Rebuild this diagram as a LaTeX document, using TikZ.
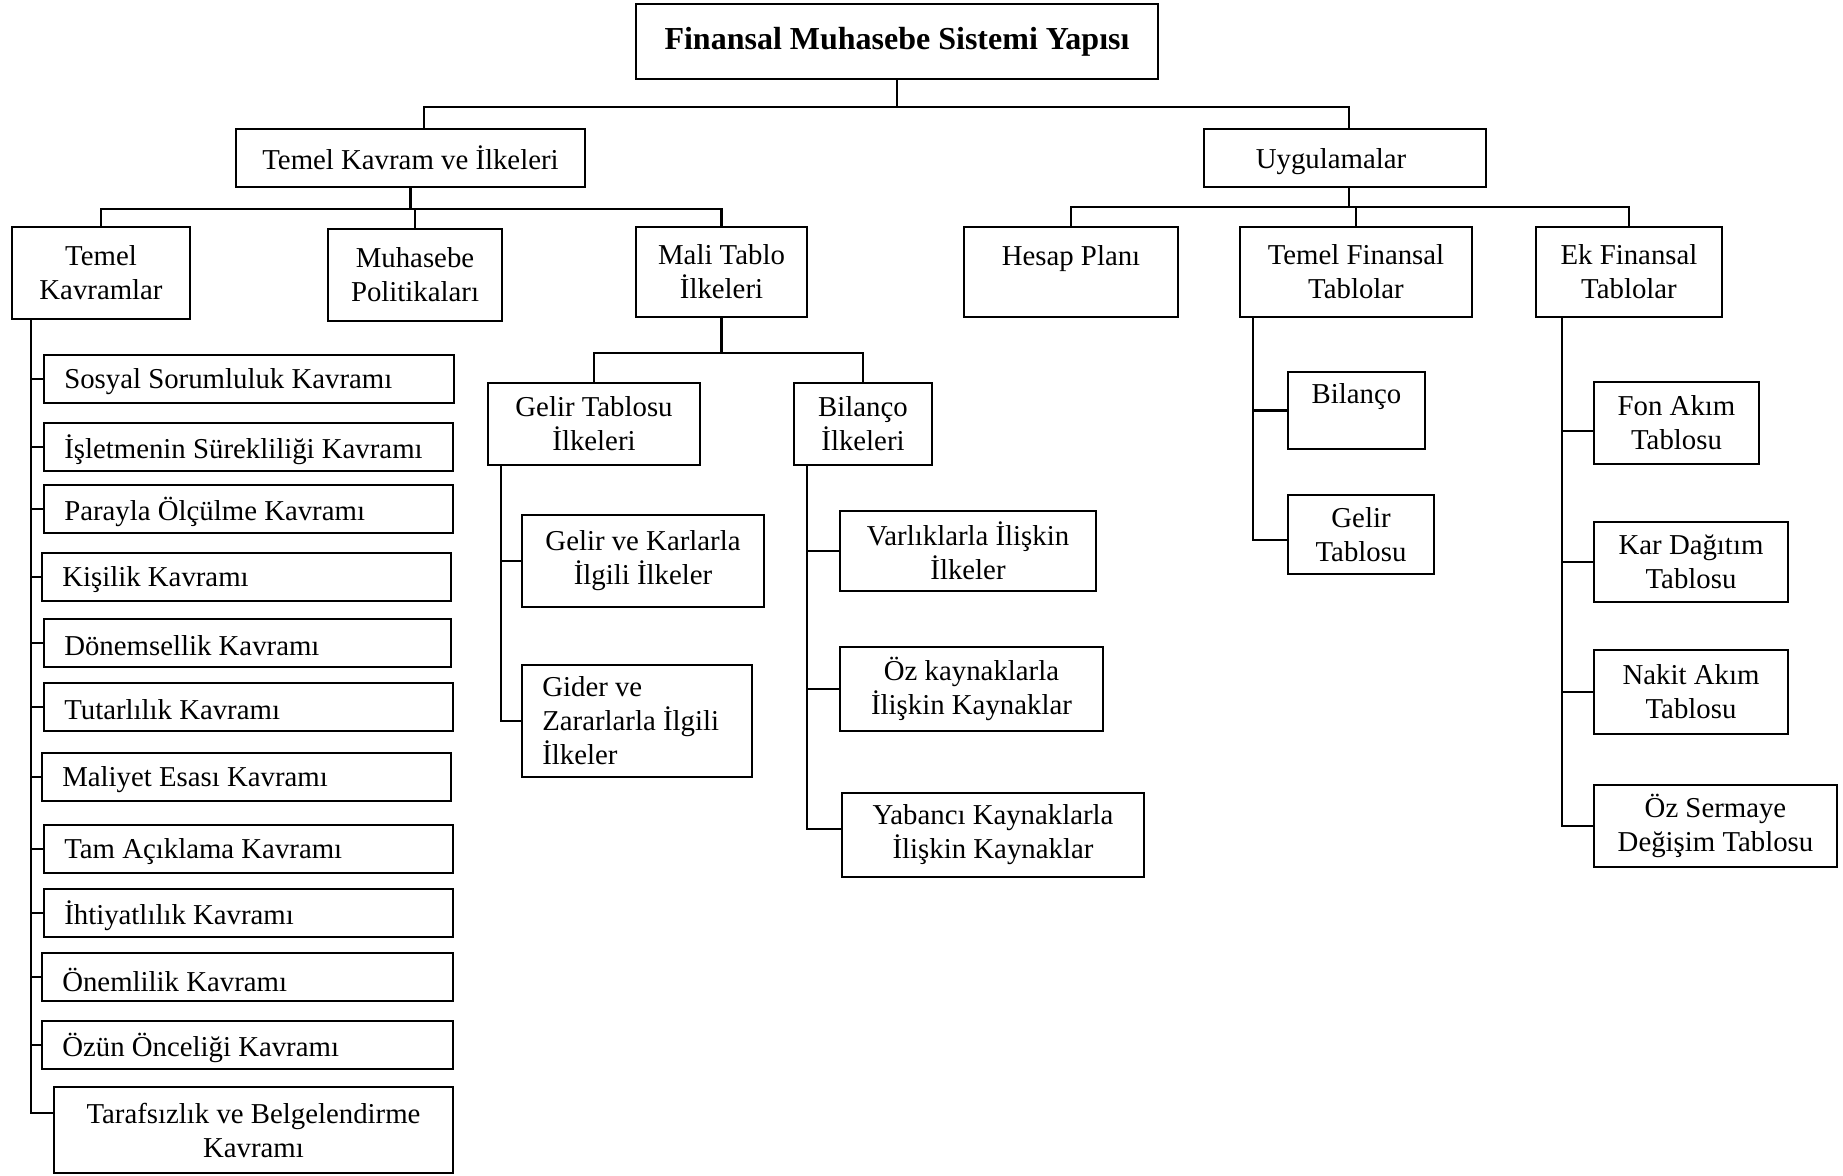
\documentclass[tikz,border=0pt]{standalone}
\usepackage{fontspec}
\setmainfont{Liberation Serif}
\tikzset{
  box/.style={draw, line width=1.1pt, inner sep=0pt, align=center, font=\fontsize{14.4}{17}\selectfont},
  lab/.style={anchor=west, inner sep=0pt, xshift=10.5pt, yshift=-1.5pt, align=left, font=\fontsize{14.4}{17}\selectfont},
  conn/.style={line width=1.1pt},
}
\newcommand{\bx}[7][]{%
  \pgfmathsetmacro\bxw{(#5-#3)*0.5}%
  \pgfmathsetmacro\bxh{(#6-#4)*0.5}%
  \node[box, minimum width=\bxw pt, minimum height=\bxh pt, #1] (#2) at ({(#3+#5)/2},{(#4+#6)/2}) {#7};}
\newcommand{\bxl}[7][]{%
  \pgfmathsetmacro\bxw{(#5-#3)*0.5}%
  \pgfmathsetmacro\bxh{(#6-#4)*0.5}%
  \node[box, minimum width=\bxw pt, minimum height=\bxh pt, label={[lab,#1]west:#7}] (#2) at ({(#3+#5)/2},{(#4+#6)/2}) {};}
\begin{document}
\begin{tikzpicture}[x=0.5pt,y=-0.5pt]
\useasboundingbox (0,0) rectangle (1843,1175);
% top levels
\bx[font=\fontsize{16}{19}\selectfont\bfseries]{top}{636}{4}{1158}{79}{Finansal Muhasebe Sistemi Yapısı}
\bx{tk}{236}{129}{585}{187}{Temel Kavram ve İlkeleri}
\bx[text depth=0pt]{uy}{1204}{129}{1486}{187}{Uygulamalar\hspace{14pt}}
\bx{tkv}{12}{227}{190}{319}{Temel\\Kavramlar}
\bx{mp}{328}{229}{502}{321}{Muhasebe\\Politikaları}
\bx{mt}{636}{227}{807}{317}{Mali Tablo\\İlkeleri}
\bx{hp}{964}{227}{1178}{317}{Hesap Planı\\\phantom{X}}
\bx{tf}{1240}{227}{1472}{317}{Temel Finansal\\Tablolar}
\bx{ek}{1536}{227}{1722}{317}{Ek Finansal\\Tablolar}
% left column
\bxl{c1}{44}{355}{454}{403}{Sosyal Sorumluluk Kavramı}
\bxl{c2}{44}{423}{453}{471}{İşletmenin Sürekliliği Kavramı}
\bxl{c3}{44}{485}{453}{533}{Parayla Ölçülme Kavramı}
\bxl{c4}{42}{553}{451}{601}{Kişilik Kavramı}
\bxl{c5}{44}{619}{451}{667}{Dönemsellik Kavramı}
\bxl{c6}{44}{683}{453}{731}{Tutarlılık Kavramı}
\bxl{c7}{42}{753}{451}{801}{Maliyet Esası Kavramı}
\bxl{c8}{44}{825}{453}{873}{Tam Açıklama Kavramı}
\bxl{c9}{44}{889}{453}{937}{İhtiyatlılık Kavramı}
\bxl{c10}{42}{953}{453}{1001}{Önemlilik Kavramı}
\bxl{c11}{42}{1021}{453}{1069}{Özün Önceliği Kavramı}
\bx{c12}{54}{1087}{453}{1173}{Tarafsızlık ve Belgelendirme\\Kavramı}
% middle
\bx{gt}{488}{383}{700}{465}{Gelir Tablosu\\İlkeleri}
\bx{bi}{794}{383}{932}{465}{Bilanço\\İlkeleri}
\bx{gk}{522}{515}{764}{607}{Gelir ve Karlarla\\İlgili İlkeler}
\bxl[yshift=1.5pt]{gz}{522}{665}{752}{777}{Gider ve\\Zararlarla İlgili\\İlkeler}
\bx{va}{840}{511}{1096}{591}{Varlıklarla İlişkin\\İlkeler}
\bx{oz}{840}{647}{1103}{731}{Öz kaynaklarla\\İlişkin Kaynaklar}
\bx{ya}{842}{793}{1144}{877}{Yabancı Kaynaklarla\\İlişkin Kaynaklar}
% right
\bx{bl}{1288}{372}{1425}{449}{Bilanço\\\phantom{X}}
\bx{gtb}{1288}{495}{1434}{574}{Gelir\\Tablosu}
\bx{fa}{1594}{382}{1759}{464}{Fon Akım\\Tablosu}
\bx{kd}{1594}{522}{1788}{602}{Kar Dağıtım\\Tablosu}
\bx{na}{1594}{650}{1788}{734}{Nakit Akım\\Tablosu}
\bx{os}{1594}{785}{1837}{867}{Öz Sermaye\\Değişim Tablosu}
% connectors
\coordinate (j0) at (892,107);
\draw[conn] (top.south) -- (top.south|-j0);
\draw[conn] ([xshift=6.75pt]tk.north) |- ([xshift=2pt]uy.north|-j0) -- ([xshift=2pt]uy.north);
\coordinate (j1) at (410,209);
\draw[conn] (tk.south) -- (tk.south|-j1);
\draw[conn] (tkv.north) |- (mt.north|-j1) -- (mt.north);
\draw[conn] (mp.north) -- (mp.north|-j1);
\coordinate (j1r) at (1349,207);
\draw[conn] ([xshift=2pt]uy.south) -- ([xshift=2pt]uy.south|-j1r);
\draw[conn] (hp.north) |- (ek.north|-j1r) -- (ek.north);
\draw[conn] (tf.north) -- (tf.north|-j1r);
% left column
\coordinate (tl) at ([xshift=10pt]tkv.south west);
\draw[conn] (tl) |- ([yshift=8.5pt]c12.west);
\foreach \n in {c1,c2,c3,c4,c5,c6,c7,c8,c9,c10,c11}
  \draw[conn] (tl|-\n.west) -- (\n.west);
% mali tablo
\coordinate (j2) at (719,353);
\draw[conn] (mt.south) -- (mt.south|-j2);
\draw[conn] (gt.north) |- (bi.north|-j2) -- (bi.north);
\coordinate (gl) at ([xshift=7pt]gt.south west);
\draw[conn] (gl) |- (gz.west);
\draw[conn] (gl|-gk.west) -- (gk.west);
\coordinate (bl0) at ([xshift=7pt]bi.south west);
\draw[conn] (bl0) |- ([yshift=3pt]ya.west);
\draw[conn] (bl0|-va.west) -- (va.west);
\draw[conn] (bl0|-oz.west) -- (oz.west);
% temel finansal
\coordinate (tfl) at ([xshift=7pt]tf.south west);
\draw[conn] (tfl) |- ([yshift=-2.75pt]gtb.west);
\draw[conn] (tfl|-bl.west) -- (bl.west);
% ek finansal
\coordinate (ekl) at ([xshift=13.5pt]ek.south west);
\draw[conn] (ekl) |- (os.west);
\draw[conn] (ekl|-fa.west) ++(0,-4pt) -- ([yshift=-4pt]fa.west);
\draw[conn] (ekl|-kd.west) -- (kd.west);
\draw[conn] (ekl|-na.west) -- (na.west);
\end{tikzpicture}
\end{document}
